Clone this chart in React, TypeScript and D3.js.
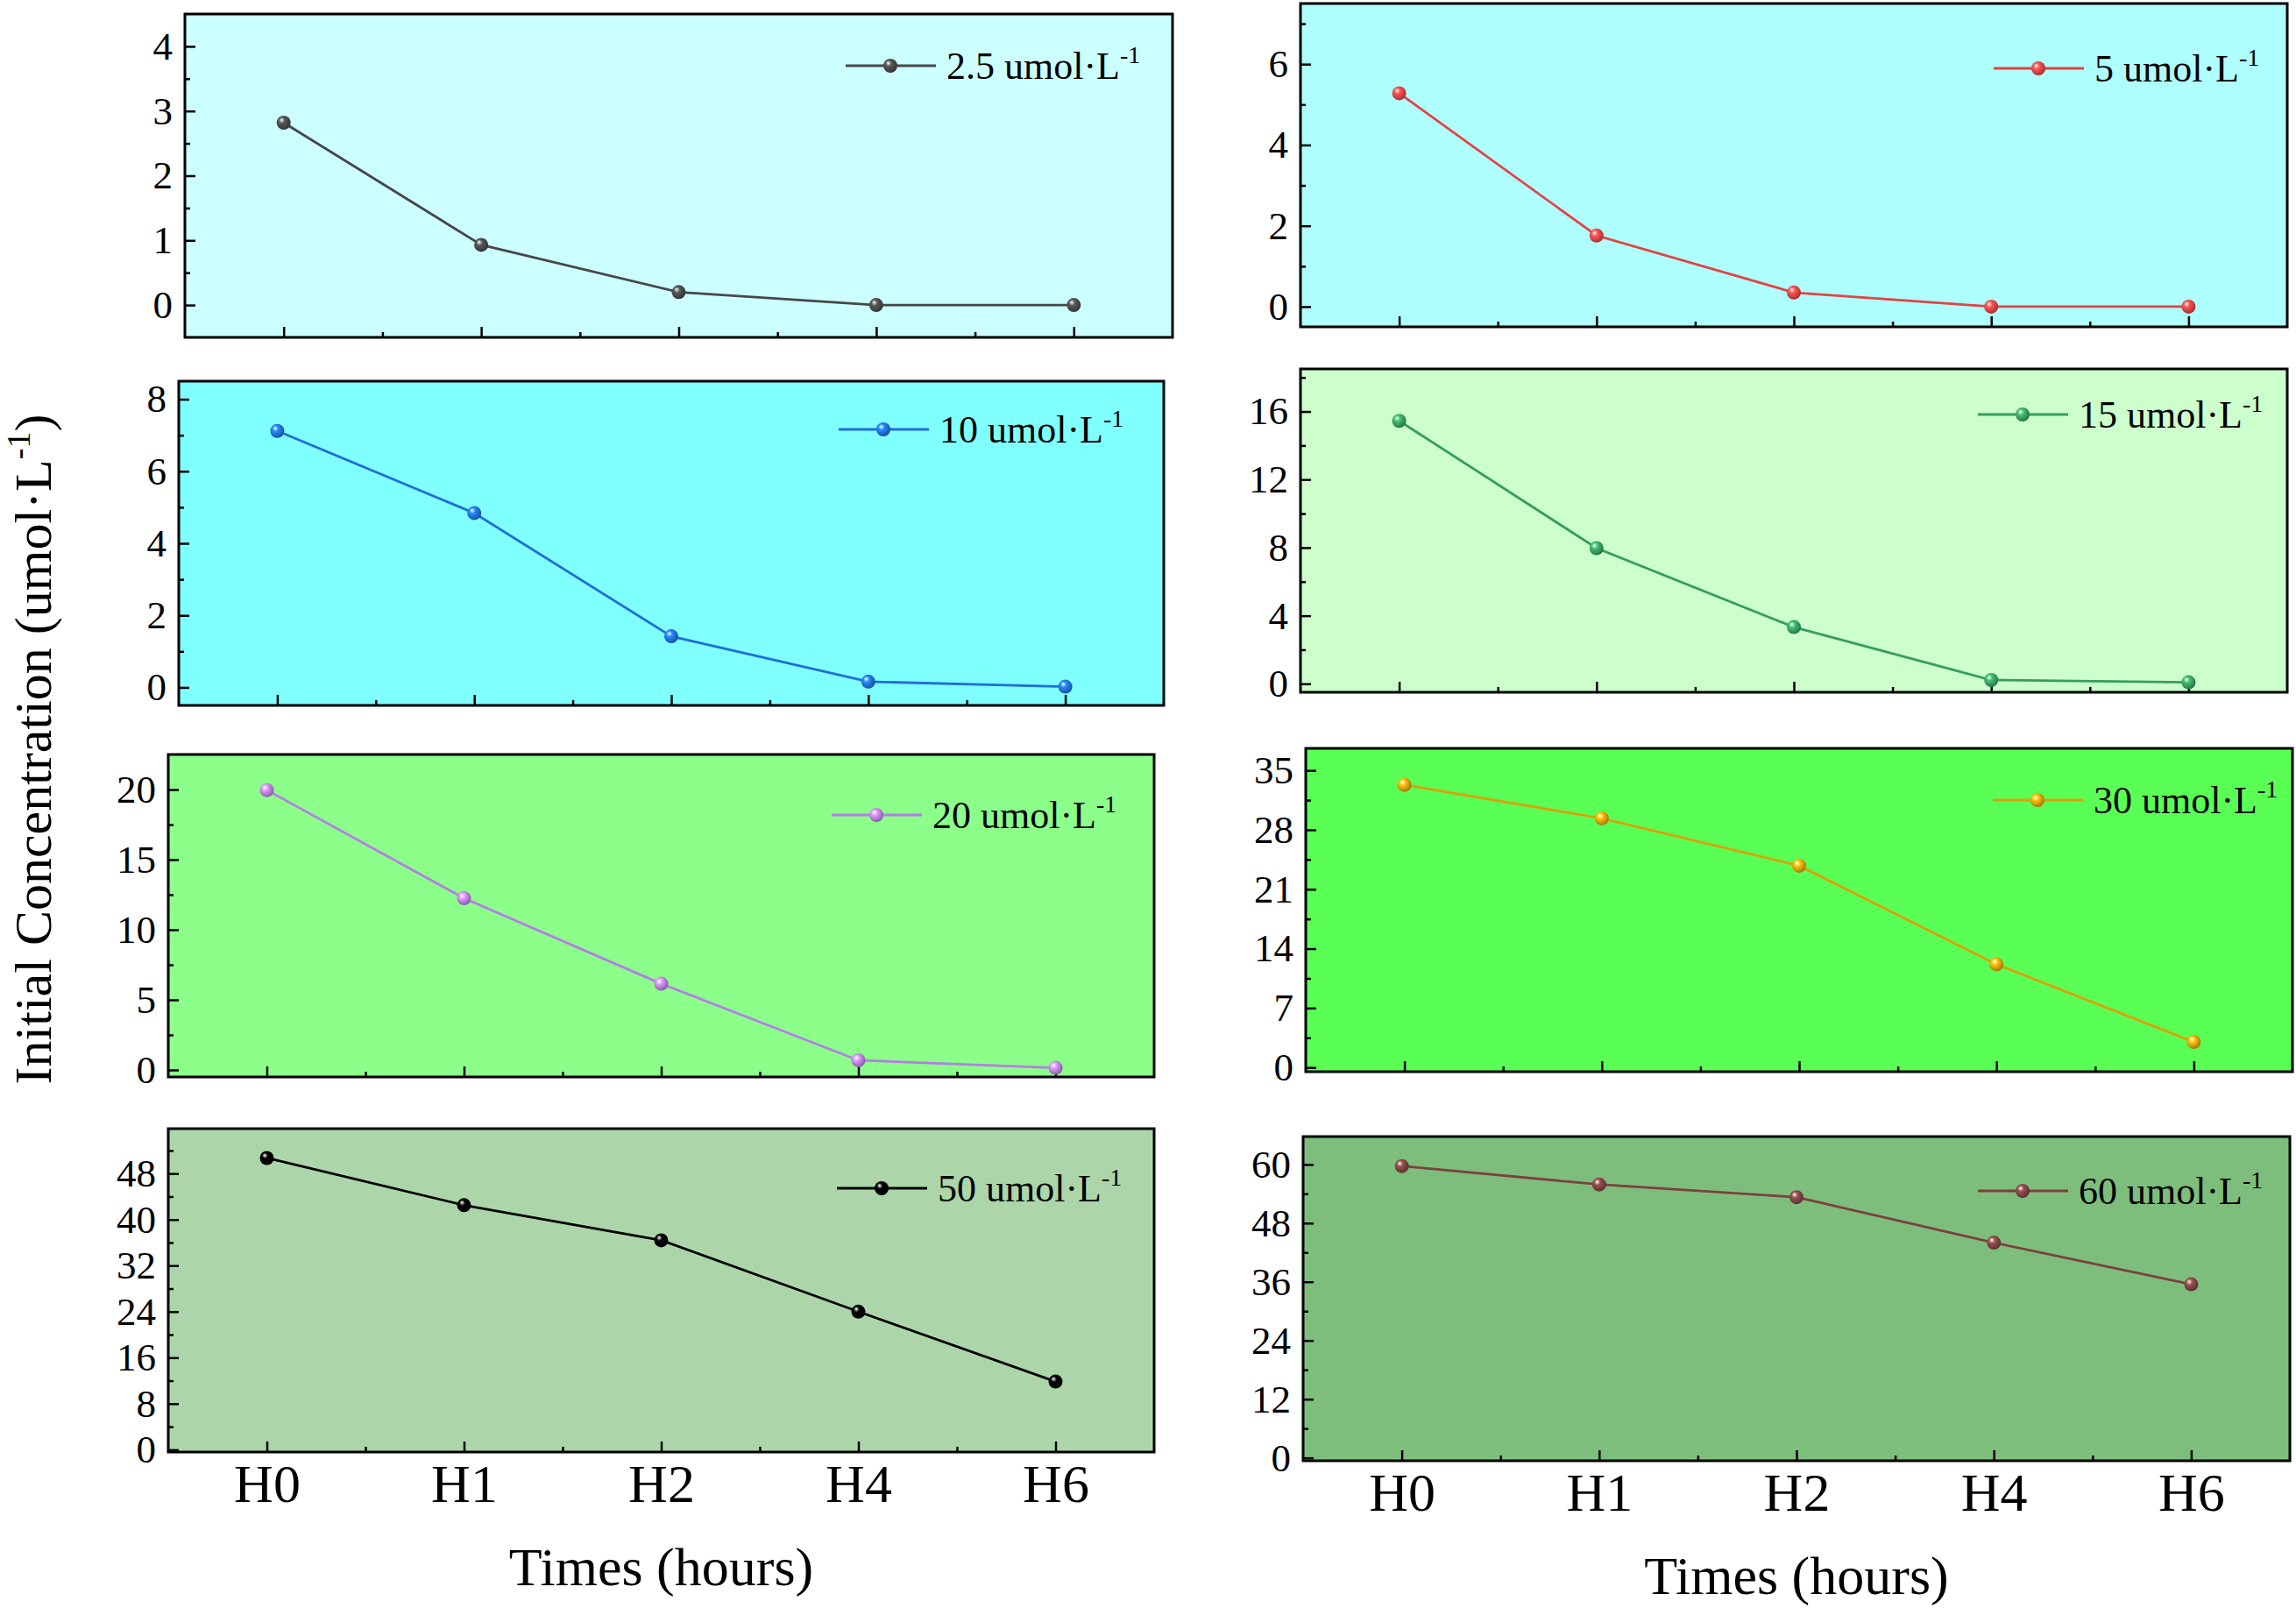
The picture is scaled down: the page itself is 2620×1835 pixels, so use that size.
import * as d3 from 'd3'
import React, { useEffect, useRef } from 'react'

const categories = ['H0', 'H1', 'H2', 'H4', 'H6']

const conc2_5 = [2.82, 0.93, 0.2, 0, 0]
const conc5 = [5.28, 1.76, 0.35, 0, 0]
const conc10 = [7.12, 4.84, 1.42, 0.16, 0.02]
const conc15 = [15.45, 7.97, 3.33, 0.22, 0.09]
const conc20 = [19.96, 12.25, 6.15, 0.69, 0.15]
const conc30 = [33.3, 29.35, 23.77, 12.16, 3.0]
const conc50 = [50.7, 42.5, 36.4, 24.0, 11.85]
const conc60 = [59.66, 55.9, 53.3, 44.0, 35.5]

const seriesNames = ['2.5', '5', '10', '15', '20', '30', '50', '60']
const seriesValues = [conc2_5, conc5, conc10, conc15, conc20, conc30, conc50, conc60]

// y ticks per panel
const majorTicks = [
  [0, 1, 2, 3, 4],
  [0, 2, 4, 6],
  [0, 2, 4, 6, 8],
  [0, 4, 8, 12, 16],
  [0, 5, 10, 15, 20],
  [0, 7, 14, 21, 28, 35],
  [0, 8, 16, 24, 32, 40, 48],
  [0, 12, 24, 36, 48, 60],
]
const minorTicks = [
  [0.5, 1.5, 2.5, 3.5],
  [1, 3, 5, 7],
  [1, 3, 5, 7],
  [2, 6, 10, 14, 18],
  [2.5, 7.5, 12.5, 17.5],
  [3.5, 10.5, 17.5, 24.5, 31.5],
  [4, 12, 20, 28, 36, 44, 52],
  [6, 18, 30, 42, 54],
]

// layout / style
const yDomains = [
  [-0.5, 4.5], [-0.5, 7.5], [-0.5, 8.5], [-0.5, 18.5],
  [-0.5, 22.5], [-0.5, 37.6], [-0.4, 55.8], [-0.6, 65.7],
]
const boxes = [
  [211, 16, 1338, 385],
  [1484, 4, 2610, 373],
  [204, 435, 1328, 805],
  [1484, 421, 2610, 790],
  [192, 861, 1317, 1229],
  [1490, 854, 2616, 1223],
  [192, 1288, 1317, 1657],
  [1487, 1297, 2613, 1667],
]
const legendPos = [
  [965, 75], [2275, 78], [957, 490], [2257, 473],
  [949, 930], [2274, 913], [955, 1356], [2257, 1359],
]
const bgColors = ['#ccffff', '#afffff', '#80ffff', '#ccffcc', '#8cff8a', '#5aff55', '#acd6aa', '#7ebe7c']
const lineColors = ['#474747', '#e24343', '#1f6fd6', '#379c5f', '#b57de6', '#dca00a', '#000000', '#7c4141']

const FONT = "'Times New Roman', 'Liberation Serif', serif"

const App = () => {
  const chartRef = useRef(null)

  useEffect(() => {
    document.body.style.margin = '0'
    const svg = d3.select(chartRef.current)
    svg.selectAll('*').remove()
    const defs = svg.append('defs')

    seriesValues.forEach((values, i) => {
      const [x0, y0, x1, y1] = boxes[i]
      const color = lineColors[i]
      const isBottom = i >= 6

      const grad = defs.append('radialGradient')
        .attr('id', 'ball' + i)
        .attr('cx', '40%').attr('cy', '40%').attr('r', '60%')
        .attr('fx', '35%').attr('fy', '30%')
      grad.append('stop').attr('offset', '0%').attr('stop-color', '#ffffff')
      grad.append('stop').attr('offset', '35%').attr('stop-color', d3.color(color)!.brighter(0.6).toString())
      grad.append('stop').attr('offset', '100%').attr('stop-color', d3.color(color)!.darker(0.8).toString())

      const x = d3.scalePoint().domain(categories).range([x0, x1]).padding(0.5)
      const xLin = d3.scaleLinear().domain([-0.5, categories.length - 0.5]).range([x0, x1])
      const y = d3.scaleLinear().domain(yDomains[i]).range([y1, y0])

      const g = svg.append('g')

      g.append('rect')
        .attr('x', x0).attr('y', y0)
        .attr('width', x1 - x0).attr('height', y1 - y0)
        .attr('fill', bgColors[i])

      // y axis
      const yAxis = g.append('g')
        .attr('transform', `translate(${x0},0)`)
        .call(d3.axisLeft(y).tickValues(majorTicks[i]).tickSize(-12).tickPadding(14).tickFormat(d3.format('d')))
      yAxis.select('.domain').remove()
      yAxis.selectAll('line').attr('stroke-width', 2.5)
      yAxis.selectAll('text')
        .attr('font-family', FONT).attr('font-size', 45).attr('fill', '#000')

      const yMinor = g.append('g')
        .attr('transform', `translate(${x0},0)`)
        .call(d3.axisLeft(y).tickValues(minorTicks[i]).tickSize(-6).tickFormat(() => ''))
      yMinor.select('.domain').remove()
      yMinor.selectAll('line').attr('stroke-width', 2.5)

      // x axis
      const xAxis = g.append('g')
        .attr('transform', `translate(0,${y1})`)
        .call(d3.axisBottom(x).tickSize(-12).tickPadding(13))
      xAxis.select('.domain').remove()
      xAxis.selectAll('line').attr('stroke-width', 2.5)
      xAxis.selectAll('text')
        .attr('font-family', FONT).attr('font-size', 62).attr('fill', '#000')
        .attr('dy', '0.71em')
        .style('display', isBottom ? null : 'none')

      const xMinor = g.append('g')
        .attr('transform', `translate(0,${y1})`)
        .call(d3.axisBottom(xLin).tickValues(d3.range(0.5, categories.length - 1, 1)).tickSize(-6).tickFormat(() => ''))
      xMinor.select('.domain').remove()
      xMinor.selectAll('line').attr('stroke-width', 2.5)

      // frame
      g.append('rect')
        .attr('x', x0).attr('y', y0)
        .attr('width', x1 - x0).attr('height', y1 - y0)
        .attr('fill', 'none').attr('stroke', '#000').attr('stroke-width', 3)

      // series
      const line = d3.line<number>()
        .x((_, j) => x(categories[j])!)
        .y((d) => y(d))
      g.append('path')
        .datum(values)
        .attr('d', line)
        .attr('fill', 'none')
        .attr('stroke', color)
        .attr('stroke-width', 2.8)

      g.selectAll('circle.pt')
        .data(values)
        .enter()
        .append('circle')
        .attr('class', 'pt')
        .attr('cx', (_, j) => x(categories[j])!)
        .attr('cy', (d) => y(d))
        .attr('r', 8)
        .attr('fill', `url(#ball${i})`)

      // legend
      const [lx, ly] = legendPos[i]
      g.append('line')
        .attr('x1', lx).attr('x2', lx + 103)
        .attr('y1', ly).attr('y2', ly)
        .attr('stroke', color).attr('stroke-width', 2.8)
      g.append('circle')
        .attr('cx', lx + 51).attr('cy', ly).attr('r', 8)
        .attr('fill', `url(#ball${i})`)
      const lt = g.append('text')
        .attr('x', lx + 115).attr('y', ly + 15)
        .attr('font-family', FONT).attr('font-size', 44)
      lt.append('tspan').text(`${seriesNames[i]} umol·L`)
      lt.append('tspan').attr('dy', -18).attr('font-size', 28).text('-1')

      if (isBottom) {
        g.append('text')
          .attr('x', (x0 + x1) / 2).attr('y', y1 + 152)
          .attr('text-anchor', 'middle')
          .attr('font-family', FONT).attr('font-size', 62)
          .text('Times (hours)')
      }
    })

    const yt = svg.append('text')
      .attr('transform', 'translate(58,855) rotate(-90)')
      .attr('text-anchor', 'middle')
      .attr('font-family', FONT).attr('font-size', 60)
    yt.append('tspan').text('Initial Concentration (umol·L')
    yt.append('tspan').attr('dy', -24).attr('font-size', 38).text('-1')
    yt.append('tspan').attr('dy', 24).text(')')
  }, [])

  return <svg ref={chartRef} width={2620} height={1835} style={{ display: 'block', background: '#fff' }}></svg>
}

export default App
